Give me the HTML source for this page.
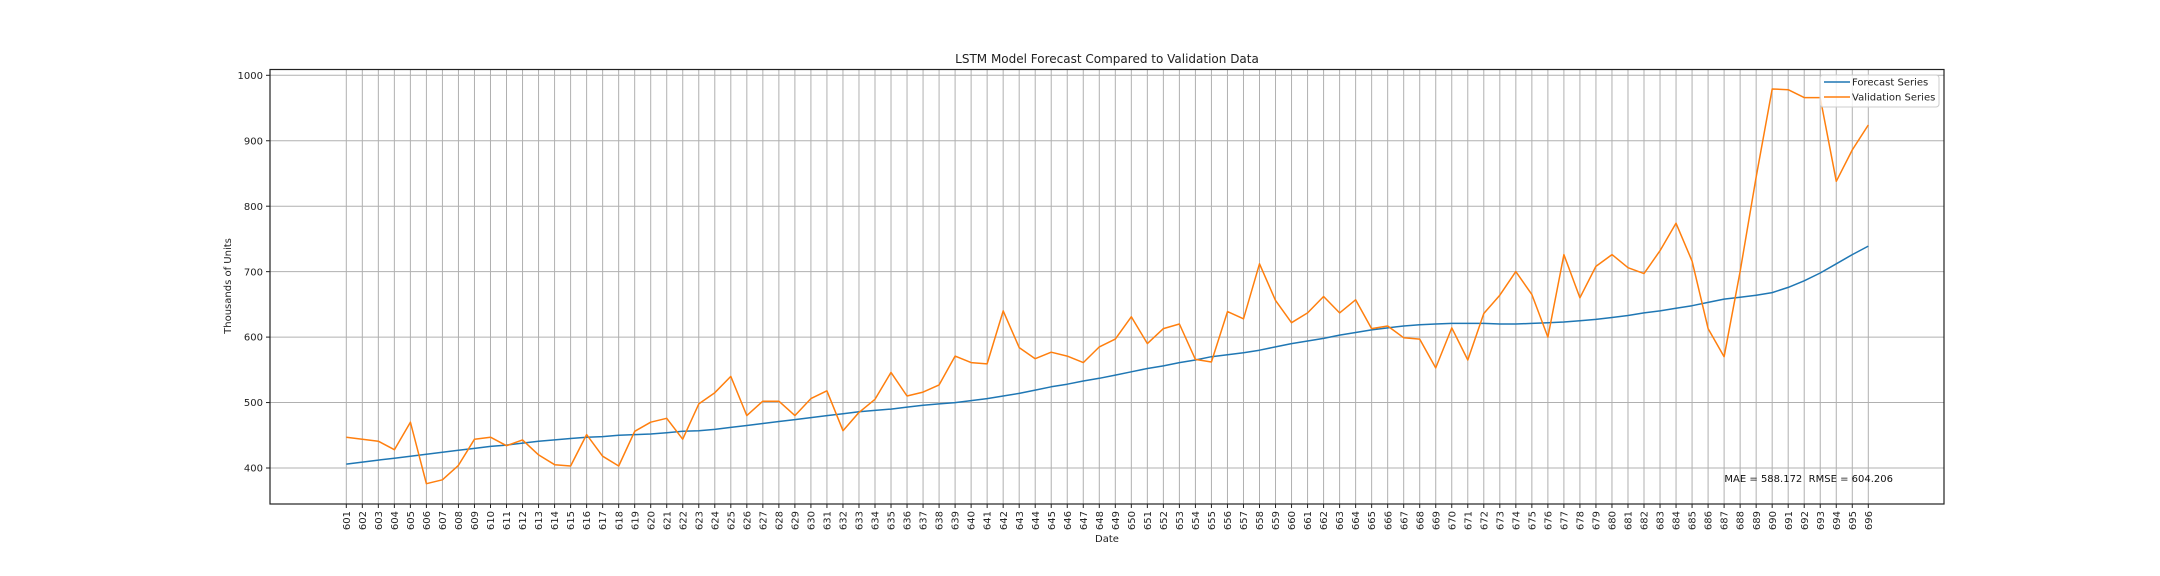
<!DOCTYPE html>
<html><head><meta charset="utf-8"><style>
html,body{margin:0;padding:0;background:#fff;}
svg{display:block;font-family:"DejaVu Sans","Liberation Sans",sans-serif;}
</style></head><body>
<svg id="chart" width="2160" height="576" viewBox="0 0 2160 576">
<rect x="0" y="0" width="2160" height="576" fill="#fff"/>
<text x="1107" y="63" text-anchor="middle" font-size="12" fill="#222">LSTM Model Forecast Compared to Validation Data</text>
<g id="grid"></g>
<g id="series"></g>
<rect x="270" y="69.5" width="1674" height="434.5" fill="none" stroke="#222" stroke-width="1.2"/>
<g id="axes"></g>
<text x="1107" y="542" text-anchor="middle" font-size="10" fill="#222">Date</text>
<text x="0" y="0" transform="translate(231,286) rotate(-90)" text-anchor="middle" font-size="10" fill="#222">Thousands of Units</text>
<text x="1893" y="482" text-anchor="end" font-size="10" fill="#111" xml:space="preserve">MAE = 588.172  RMSE = 604.206</text>
<g>
<rect x="1820" y="75" width="119" height="32" rx="3" fill="#fff" fill-opacity="0.8" stroke="#ccc"/>
<line x1="1824" y1="82" x2="1850" y2="82" stroke="#1f77b4" stroke-width="1.5"/>
<text x="1852" y="85.5" font-size="10" fill="#222">Forecast Series</text>
<line x1="1824" y1="97" x2="1850" y2="97" stroke="#ff7f0e" stroke-width="1.5"/>
<text x="1852" y="100.5" font-size="10" fill="#222">Validation Series</text>
</g>
</svg>
<script>
const dates = [];
for (let d = 601; d <= 696; d++) dates.push(String(d));
const forecastValues = [406,409,412,415,418,421,424,427,430,433,435,438,441,443,445,447,448,450,451,452,454,456,457,459,462,465,468,471,474,477,480,483,486,488,490,493,496,498,500,503,506,510,514,519,524,528,533,537,542,547,552,556,561,565,570,573,576,580,585,590,594,598,603,607,611,614,617,619,620,621,621,621,620,620,621,622,623,625,627,630,633,637,640,644,648,653,658,661,664,668,676,686,698,712,726,739];
const validationValues = [447,444,441,428,470,376,382,404,444,447,434,443,420,405,403,451,418,403,456,470,476,444,498,515,540,480,502,502,480,506,518,457,485,505,546,510,516,527,571,561,559,640,584,567,577,571,561,585,597,631,590,613,620,566,562,639,628,712,656,622,637,662,637,657,613,617,599,597,553,614,565,636,664,700,665,600,726,660,708,726,706,697,732,774,716,613,570,700,845,979,978,966,966,838,886,924];
const yTicks = [400,500,600,700,800,900,1000];

const NS = "http://www.w3.org/2000/svg";
const X0 = 346.3, XSTEP = (1868.3 - 346.3) / 95;
const xScale = i => X0 + i * XSTEP;
const yScale = v => 468 - (v - 400) * 0.6545;
const grid = document.getElementById('grid');
const axes = document.getElementById('axes');
const series = document.getElementById('series');
function mk(tag, attrs, parent) {
  const e = document.createElementNS(NS, tag);
  for (const k in attrs) e.setAttribute(k, attrs[k]);
  parent.appendChild(e);
  return e;
}
dates.forEach((d, i) => {
  const x = xScale(i);
  const g = mk('line', {x1: x, x2: x, y1: 69.5, y2: 504, stroke: '#b0b0b0', 'stroke-width': 1}, grid);
  
  
  const t = mk('line', {x1: x, x2: x, y1: 504, y2: 508, stroke: '#222', 'stroke-width': 1}, axes);
  
  
  const l = mk('text', {x: 0, y: 0, transform: `translate(${(x + 3.6).toFixed(1)},511) rotate(-90)`, 'text-anchor': 'end', 'font-size': 10, fill: '#222'}, axes);
  l.textContent = d;
  
  
});
yTicks.forEach(v => {
  const y = yScale(v);
  const g = mk('line', {x1: 270, x2: 1944, y1: y, y2: y, stroke: '#b0b0b0', 'stroke-width': 1}, grid);
  
  
  const t = mk('line', {x1: 266, x2: 270, y1: y, y2: y, stroke: '#222', 'stroke-width': 1}, axes);
  
  
  const l = mk('text', {x: 263, y: y + 3.6, 'text-anchor': 'end', 'font-size': 10, fill: '#222'}, axes);
  l.textContent = v;
  
  
});
function line(vals, color, name) {
  const pts = vals.map((v, i) => xScale(i).toFixed(1) + ',' + yScale(v).toFixed(1)).join(' ');
  const p = mk('polyline', {points: pts, fill: 'none', stroke: color, 'stroke-width': 1.5, 'stroke-linejoin': 'round'}, series);
  
  
}
line(forecastValues, '#1f77b4', 'forecast-series-line');
line(validationValues, '#ff7f0e', 'validation-series-line');
</script>
</body></html>
